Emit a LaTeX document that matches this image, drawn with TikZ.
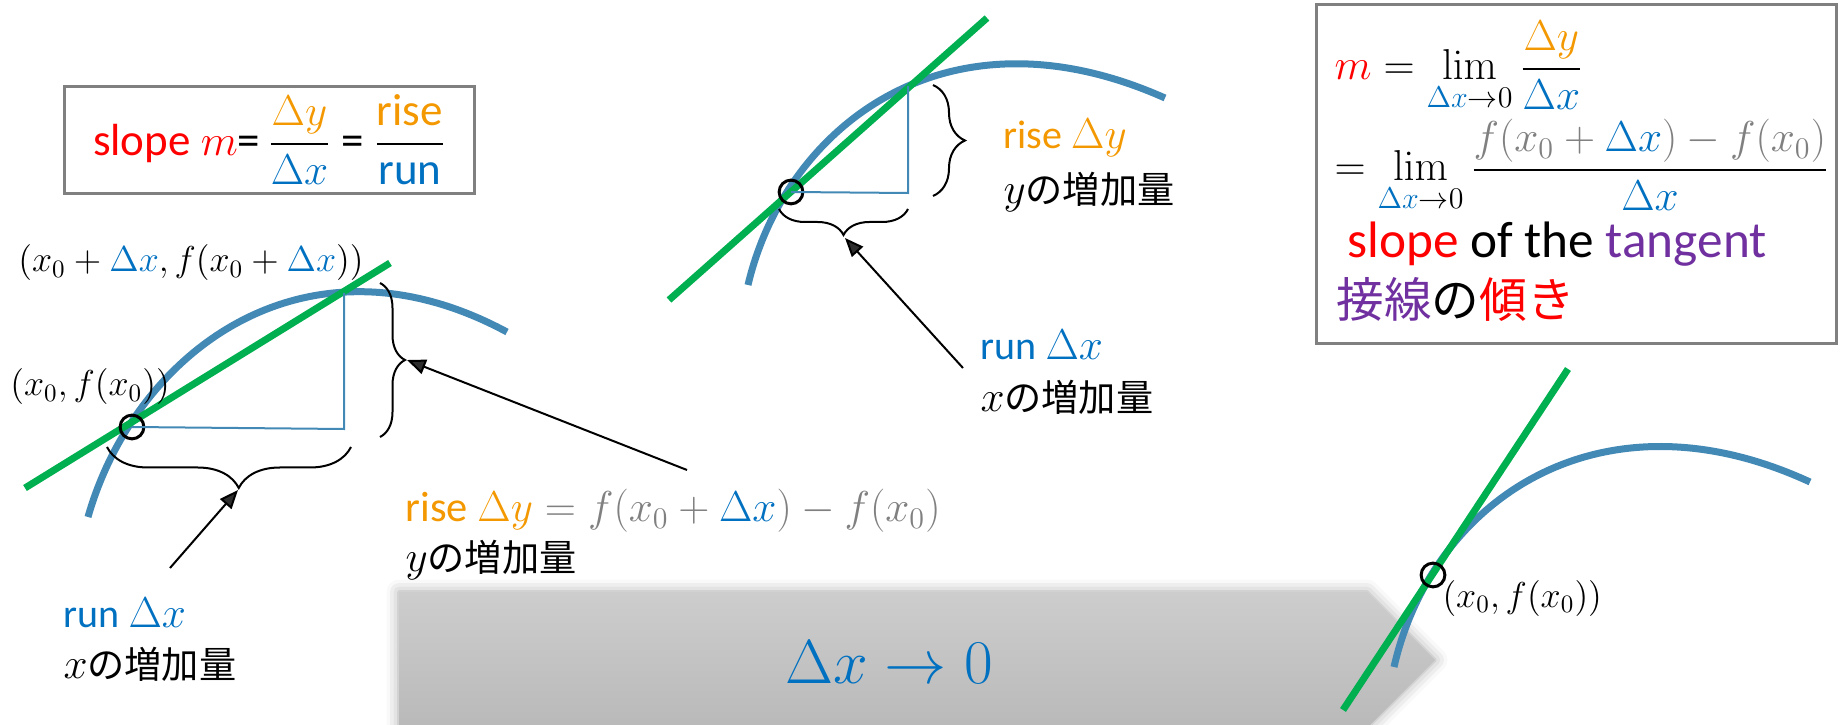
\documentclass[tikz,border=0pt]{standalone}
\usepackage{amsmath}
\usepackage[no-math]{fontspec}
\setmainfont{Carlito}
\newfontfamily\jp{Noto Sans CJK JP}[Scale=0.93]
\usetikzlibrary{arrows.meta,decorations.pathreplacing,shadows.blur}

\definecolor{curveblue}{HTML}{4389B5}
\definecolor{tgreen}{HTML}{00B050}
\definecolor{dxblue}{HTML}{0070C0}
\definecolor{dyorange}{HTML}{F39800}
\definecolor{tanpurple}{HTML}{7030A0}
\definecolor{fgray}{HTML}{808080}
\definecolor{chevtop}{HTML}{CDCDCD}
\definecolor{chevbot}{HTML}{B9B9B9}

\newcommand{\dX}{{\color{dxblue}\Delta x}}
\newcommand{\dY}{{\color{dyorange}\Delta y}}

\begin{document}
\begin{tikzpicture}[
    x=0.4pt, y=-0.4pt, % one unit is one pixel of the slide, y goes down
    lbl/.style={anchor=west, inner sep=0pt, font=\fontsize{16}{19}\selectfont},
    coordlbl/.style={anchor=west, inner sep=0pt, font=\fontsize{14}{17}\selectfont},
    curve/.style={draw=curveblue, line width=2.8pt}, % the graph of f
    tangent/.style={draw=tgreen, line width=2.8pt}, % secant / tangent line
    legs/.style={draw=curveblue, line width=0.8pt},
    point/.style={circle, draw, line width=1.2pt, minimum size=9.5pt, inner sep=0pt},
    brc/.style={decorate, decoration={brace, amplitude=#1}, line width=0.8pt},
    ptr/.style={-{Triangle[length=7.5pt, width=6pt]}, line width=0.8pt}
]
\useasboundingbox (0,0) rectangle (1841,725);
\clip (0,0) rectangle (1841,725);

% The big grey arrow
\path[blur shadow={shadow xshift=0pt, shadow yshift=0pt, shadow blur radius=5pt, shadow opacity=35},
      top color=chevtop, bottom color=chevbot]
    (399,592) -- (1367,592) -- (1435,660) -- (1367,728) -- (399,728) -- cycle;
\node[font=\fontsize{25}{30}\selectfont, text=dxblue] (lim) at (889,662) {$\Delta x \to 0$};

% Formula boxes
\node[draw=fgray, line width=1.2pt, minimum width=163.6pt, minimum height=41.6pt,
      font=\fontsize{18}{22}\selectfont] (slopebox) at (269.5,140)
    {\textcolor{red}{slope $m$}=\,$\dfrac{\dY}{\dX}$ = $\dfrac{\text{\color{dyorange}rise}}{\text{\color{dxblue}run}}$};
\node[draw=fgray, line width=1.2pt, minimum width=208pt, minimum height=135.2pt] (limbox) at (1576,174) {};
\node[anchor=base west, inner sep=0pt, font=\fontsize{16.5}{20}\selectfont] (row1) at (1334,80)
    {$\textcolor{red}{m} = \lim\limits_{\dX\to 0}\dfrac{\dY}{\dX}$};
\node[anchor=base west, inner sep=0pt, font=\fontsize{16.5}{20}\selectfont] (row2) at (1334,181)
    {$= \lim\limits_{\dX\to 0}\dfrac{\color{fgray}f(x_0+\dX)-f(x_0)}{\dX}$};
\node[anchor=base west, inner sep=0pt, font=\fontsize{20.5}{24}\selectfont] (row3) at (1347,258)
    {\textcolor{red}{slope} of the \textcolor{tanpurple}{tangent}};
\node[anchor=base west, inner sep=0pt, font=\fontsize{20.5}{24}\selectfont] (row4) at (1336,318)
    {\jp\textcolor{tanpurple}{接線}の\textcolor{red}{傾き}};

% Left picture: secant through two points
\draw[curve] (88,517) .. controls (135,352) and (305,223) .. (507,332);
\draw[tangent] (25,488) -- (390,263);
\node[point] (P1) at (132,427) {};
\coordinate (Q1) at (344,293);
\coordinate (R1) at (344,429);
\draw[legs] (P1.center) -- (R1) -- (Q1);
\draw[brc=10pt] (380,283) -- (380,437);
\draw[brc=16.4pt, decoration={aspect=0.46}] (351,447) -- (107,447);
\coordinate (riseTip1) at (407,360);
\coordinate (runTip1) at (238,490);
\coordinate (riseFrom1) at (687,470);
\coordinate (runFrom1) at (170,568);
\draw[ptr] (riseFrom1) -- (riseTip1);
\draw[ptr] (runFrom1) -- (runTip1);
\node[coordlbl] (Q1lbl) at (18,263) {$(x_0+\dX, f(x_0+\dX))$};
\node[coordlbl] (P1lbl) at (10,387) {$(x_0, f(x_0))$};
\node[lbl, font=\fontsize{17}{20}\selectfont] (rise1) at (405,511)
    {\textcolor{dyorange}{rise} $\dY \color{fgray} = f(x_0+\dX)-f(x_0)$};
\node[lbl] (incy1) at (405,560) {$y${\jp の増加量}};
\node[lbl] (run1) at (63,613) {\textcolor{dxblue}{run $\Delta x$}};
\node[lbl] (incx1) at (63,664) {$x${\jp の増加量}};

% Middle picture: the second point comes closer
\draw[curve] (748,285) .. controls (785,128) and (945,0) .. (1165,98);
\draw[tangent] (669,300) -- (987,18);
\node[point] (P2) at (791,192) {};
\coordinate (Q2) at (908,86);
\coordinate (R2) at (908,193);
\draw[legs] (P2.center) -- (R2) -- (Q2);
\draw[brc=12.8pt] (933,85) -- (933,196);
\draw[brc=10.4pt] (908,209) -- (779,209);
\coordinate (runTip2) at (845,238);
\coordinate (runFrom2) at (963,368);
\draw[ptr] (runFrom2) -- (runTip2);
\node[lbl] (rise2) at (1003,138) {\textcolor{dyorange}{rise $\Delta y$}};
\node[lbl] (incy2) at (1003,192) {$y${\jp の増加量}};
\node[lbl] (run2) at (980,345) {\textcolor{dxblue}{run $\Delta x$}};
\node[lbl] (incx2) at (980,397) {$x${\jp の増加量}};

% Right picture: the tangent
\draw[curve] (1394,667) .. controls (1432,500) and (1600,385) .. (1810,482);
\draw[tangent] (1343,710) -- (1568,369);
\node[point] (P3) at (1433,575) {};
\node[coordlbl] (P3lbl) at (1442,598) {$(x_0, f(x_0))$};

\end{tikzpicture}
\end{document}
